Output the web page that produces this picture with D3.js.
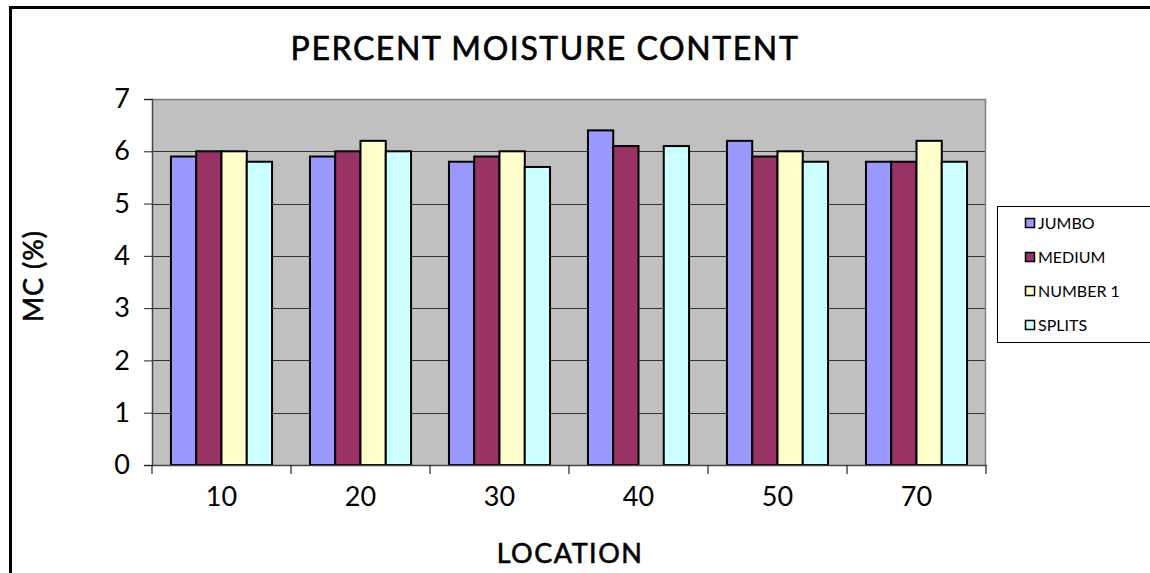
<!DOCTYPE html>
<html><head><meta charset="utf-8">
<script src="https://cdn.jsdelivr.net/npm/d3@7"></script>
<style>body{margin:0;background:#fff;}svg{display:block;}</style>
</head><body>
<svg id="c" width="1150" height="573"></svg>
<script>
const categories = ["10","20","30","40","50","70"];
const seriesNames = ["JUMBO","MEDIUM","NUMBER 1","SPLITS"];
const jumbo   = [5.9, 5.9, 5.8, 6.4, 6.2, 5.8];
const medium  = [6.0, 6.0, 5.9, 6.1, 5.9, 5.8];
const number1 = [6.0, 6.2, 6.0, null, 6.0, 6.2];
const splits  = [5.8, 6.0, 5.7, 6.1, 5.8, 5.8];
const yTicks  = [0,1,2,3,4,5,6,7];
const colors  = ["#9999FF","#993366","#FFFFCC","#CCFFFF"];
const seriesValues = [jumbo, medium, number1, splits];

const FONT = "Lato";
const svg = d3.select("#c");
const L = 152, R = 986, T = 99, B = 465;

// outer frame
svg.append("path").attr("d", `M10.5,580 L10.5,7.5 L1160,7.5`).attr("fill","none").attr("stroke","#000").attr("stroke-width",3);

const x0 = d3.scaleBand().domain(categories).range([L,R]).paddingInner(0).paddingOuter(0);
const bw = x0.bandwidth()/5.5;
const x1 = d3.scaleBand().domain(seriesNames).range([0.75*bw, x0.bandwidth()-0.75*bw]);
const y = d3.scaleLinear().domain([0,7]).range([B,T]);

svg.append("rect").attr("x",L).attr("y",T).attr("width",R-L).attr("height",B-T).attr("fill","#C0C0C0");
// grid
svg.append("g").selectAll("line").data(yTicks.slice(1,-1)).join("line")
  .attr("x1",L).attr("x2",R).attr("y1",d=>Math.round(y(d))+0.5).attr("y2",d=>Math.round(y(d))+0.5)
  .attr("stroke","#333").attr("stroke-width",1);
// plot border top/right
svg.append("path").attr("d",`M${L},${T+0.5} L${R-0.5},${T+0.5} L${R-0.5},${B}`).attr("fill","none").attr("stroke","#808080").attr("stroke-width",1.5);

// bars
const g = svg.append("g");
seriesValues.forEach((vals,si)=>{
  g.selectAll(null).data(categories.map((c,i)=>({c,v:vals[i]})).filter(d=>d.v!=null)).join("rect")
    .attr("x",d=>x0(d.c)+x1(seriesNames[si]))
    .attr("y",d=>y(d.v))
    .attr("width",x1.bandwidth())
    .attr("height",d=>B-y(d.v))
    .attr("fill",colors[si]).attr("stroke","#000").attr("stroke-width",2);
});

// y axis
const yAxis = d3.axisLeft(y).tickValues(yTicks).tickSize(8).tickPadding(14).tickFormat(d3.format("d"));
const ya = svg.append("g").attr("transform",`translate(${L},0)`).call(yAxis);
ya.select(".domain").attr("stroke","#444").attr("stroke-width",1.5);
ya.selectAll(".tick line").attr("stroke","#222");
ya.selectAll("text").attr("font-family",FONT).attr("font-size",27).attr("fill","#000");

// x axis
const xa = svg.append("g").attr("transform",`translate(0,${B})`).call(d3.axisBottom(x0).tickSize(0).tickPadding(22));
xa.select(".domain").attr("stroke","#444").attr("stroke-width",1.5);
xa.selectAll("text").attr("font-family",FONT).attr("font-size",27).attr("fill","#000");
svg.append("g").selectAll("line").data(categories.concat(["end"])).join("line")
  .attr("x1",(d,i)=>L+i*x0.bandwidth()).attr("x2",(d,i)=>L+i*x0.bandwidth())
  .attr("y1",B).attr("y2",B+9).attr("stroke","#222").attr("stroke-width",1.2);

// titles
svg.append("text").attr("x",545).attr("y",60).attr("text-anchor","middle")
  .attr("font-family",FONT).attr("font-size",32).attr("letter-spacing",1.6)
  .attr("stroke","#000").attr("stroke-width",0.6).text("PERCENT MOISTURE CONTENT");
svg.append("text").attr("x",570).attr("y",563).attr("text-anchor","middle")
  .attr("font-family",FONT).attr("font-size",27).attr("letter-spacing",1.5)
  .attr("stroke","#000").attr("stroke-width",0.6).text("LOCATION");
svg.append("text").attr("transform","translate(43,276) rotate(-90)").attr("text-anchor","middle")
  .attr("font-family",FONT).attr("font-size",27).attr("letter-spacing",1)
  .attr("stroke","#000").attr("stroke-width",0.6).text("MC (%)");

// legend
svg.append("rect").attr("x",997.5).attr("y",206.5).attr("width",160).attr("height",136).attr("fill","#fff").attr("stroke","#000").attr("stroke-width",1);
const lg = svg.append("g").selectAll("g").data(seriesNames).join("g")
  .attr("transform",(d,i)=>`translate(1025,${223+i*34})`);
lg.append("rect").attr("x",0.5).attr("y",-4.5).attr("width",9).attr("height",9)
  .attr("fill",(d,i)=>colors[i]).attr("stroke","#000").attr("stroke-width",1.5);
lg.append("text").attr("x",13).attr("y",6).attr("font-family",FONT).attr("font-size",16).text(d=>d);
</script>
</body></html>
